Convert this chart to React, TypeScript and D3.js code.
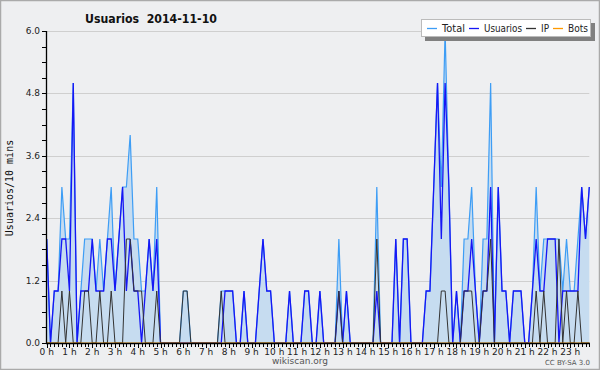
import React from 'react';
import * as d3 from 'd3';

const title = 'Usuarios  2014-11-10';
const yLabel = 'Usuarios/10 mins';
const hourLabels = Array.from({ length: 24 }, (_, h) => `${h} h`);
const yTickValues = [0, 1.2, 2.4, 3.6, 4.8, 6.0];

// 144 slots of 10 minutes
const usuarios = [
  2,0,1,1,2,2,1,5,0,1,1,1,2,1,1,1,2,2,1,2,3,1,2,1,1,0,1,2,1,2,0,0,0,0,0,0,
  0,0,0,0,0,0,0,0,0,0,0,1,1,1,0,0,1,0,0,0,1,2,1,1,0,0,0,0,1,0,0,0,1,1,0,0,
  1,0,0,0,0,1,0,1,0,0,0,0,0,0,0,1,0,0,0,0,2,0,2,2,0,0,0,0,1,1,3,5,2,5,3,0,
  1,0,1,1,2,1,0,1,1,3,0,3,1,1,0,1,1,1,0,0,1,2,1,1,2,2,2,0,1,1,1,1,1,3,2,3,
];
const ip = [
  0,0,0,0,1,0,1,0,0,0,1,1,0,0,1,0,0,1,0,0,0,2,2,1,1,1,0,0,0,1,0,0,0,0,0,0,
  1,1,0,0,0,0,0,0,0,0,1,0,0,0,0,0,0,0,0,0,0,0,0,0,0,0,0,0,0,0,0,0,0,0,0,0,
  0,0,0,0,0,1,0,0,0,0,0,0,0,0,0,2,0,0,0,0,0,0,0,0,0,0,0,0,0,0,0,0,1,1,0,0,
  0,0,1,1,1,0,0,1,1,2,0,0,0,0,0,0,0,0,0,0,0,1,0,1,0,0,0,2,0,1,0,0,1,0,0,0,
];
const bots = new Array(144).fill(0);
const total = usuarios.map((u, i) => u + ip[i] + bots[i]);

const legendItems = [
  { name: 'Total', color: '#3d9df5' },
  { name: 'Usuarios', color: '#1616f5' },
  { name: 'IP', color: '#333333' },
  { name: 'Bots', color: '#ff9900' },
];
const legendSampleX = [427, 469, 526, 553];
const legendTextX = [442, 484, 541, 568];
const legendTextW = [23, 38, 8, 20];

export default function App() {
  const W = 600, H = 370;
  const x = d3.scaleLinear().domain([0, 143]).range([46.7, 589.3]);
  const y = d3.scaleLinear().domain([0, 6]).range([343, 31]);
  const idx = d3.range(144);
  const line = (arr: number[]) =>
    d3.line<number>().x((i) => x(i)).y((i) => y(arr[i]))(idx) || '';
  const area = d3.area<number>().x((i) => x(i)).y0(y(0)).y1((i) => y(total[i]))(idx) || '';
  const minorY = d3.range(0, 6.0001, 0.3);

  return (
    <svg width={W} height={H} style={{ position: 'absolute', left: 0, top: 0 }}
      fontFamily="DejaVu Sans, sans-serif">
      <rect x={0} y={0} width={W} height={H} fill="#eeeff1" />
      <rect x={0.5} y={0.5} width={W - 1} height={H - 1} fill="none" stroke="#aaaaaa" strokeWidth={1.5} />
      {/* grid */}
      {yTickValues.slice(1).map((v) => (
        <line key={v} x1={x(0)} x2={x(143)} y1={Math.round(y(v)) + 0.5} y2={Math.round(y(v)) + 0.5}
          stroke="#cfcfcf" strokeWidth={1} />
      ))}
      {/* series */}
      <path d={area} fill="#c6dcf0" />
      <path d={line(total)} fill="none" stroke="#3d9df5" strokeWidth={1.2} />
      <path d={line(usuarios)} fill="none" stroke="#1616f5" strokeWidth={1.3} />
      <path d={line(ip)} fill="none" stroke="#333333" strokeWidth={1} />
      <path d={line(bots)} fill="none" stroke="#ff9900" strokeWidth={1} />
      {/* axes */}
      <line x1={46.5} x2={46.5} y1={31} y2={344} stroke="#000" strokeWidth={1.3} />
      <line x1={46} x2={590} y1={343.5} y2={343.5} stroke="#000" strokeWidth={1.3} />
      {minorY.map((v, k) => (
        <line key={k} x1={42} x2={46} y1={Math.round(y(v)) + 0.5} y2={Math.round(y(v)) + 0.5} stroke="#000" />
      ))}
      {idx.map((i) => (
        <line key={i} x1={Math.round(x(i)) + 0.5} x2={Math.round(x(i)) + 0.5} y1={344} y2={i % 6 === 0 ? 348 : 347}
          stroke="#000" />
      ))}
      {yTickValues.map((v) => (
        <text key={v} x={40} y={y(v) + 3} fontSize={9} textAnchor="end" fill="#222">{v.toFixed(1)}</text>
      ))}
      {hourLabels.map((t, h) => (
        <text key={t} x={x(h * 6)} y={355} fontSize={9} textAnchor="middle" fill="#222">{t}</text>
      ))}
      <text x={0} y={0} transform={`translate(13,188) rotate(-90)`} fontSize={10}
        fontFamily="DejaVu Sans Mono, monospace" textAnchor="middle" fill="#111">{yLabel}</text>
      <text x={85} y={23} fontSize={13} fontWeight="bold" fill="#111" textLength={132}
        lengthAdjust="spacingAndGlyphs" style={{ whiteSpace: 'pre' }}>{title}</text>
      {/* legend */}
      <rect x={425} y={23} width={170} height={18} fill="#808080" />
      <rect x={421.5} y={19.5} width={169} height={17} fill="#fff" stroke="#bbb" />
      {legendItems.map((it, k) => (
        <g key={it.name}>
          <line x1={legendSampleX[k]} x2={legendSampleX[k] + 10} y1={28.5} y2={28.5} stroke={it.color} strokeWidth={1.3} />
          <text x={legendTextX[k]} y={32} fontSize={10.5} fill="#222" textLength={legendTextW[k]}
            lengthAdjust="spacingAndGlyphs">{it.name}</text>
        </g>
      ))}
      <text x={300} y={364} fontSize={9} textAnchor="middle" fill="#555">wikiscan.org</text>
      <text x={590} y={365} fontSize={7} textAnchor="end" fill="#555">CC BY-SA 3.0</text>
    </svg>
  );
}
